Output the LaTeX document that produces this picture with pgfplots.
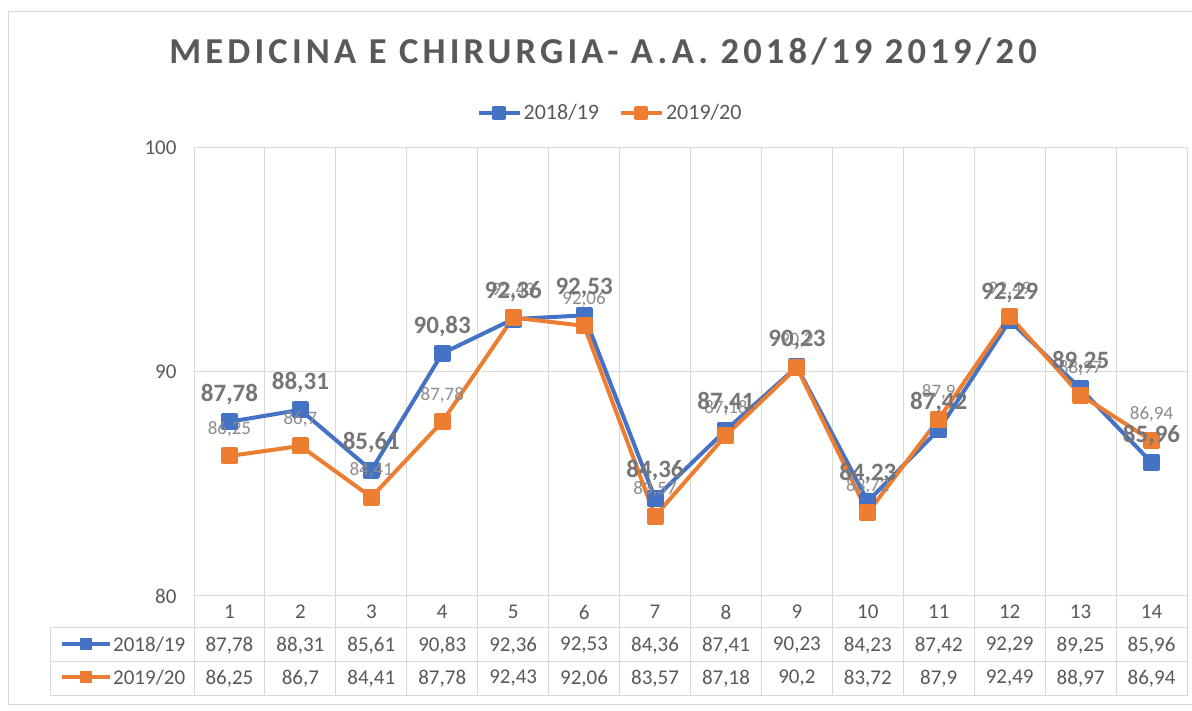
\documentclass[border=0pt]{standalone}
\usepackage{pgfplots}
\pgfplotsset{compat=1.18}
\usepackage{pgfplotstable}
\usepackage{fontspec}
\setmainfont{Carlito}
\definecolor{bl}{HTML}{4472C4}
\definecolor{or}{HTML}{ED7D31}
\definecolor{tx}{HTML}{595959}
\definecolor{gr}{HTML}{D9D9D9}
\definecolor{lab}{HTML}{767676}
\definecolor{labl}{HTML}{8C8C8C}

\pgfplotstableread{
x a b
1 87.78 86.25
2 88.31 86.70
3 85.61 84.41
4 90.83 87.78
5 92.36 92.43
6 92.53 92.06
7 84.36 83.57
8 87.41 87.18
9 90.23 90.20
10 84.23 83.72
11 87.42 87.90
12 92.29 92.49
13 89.25 88.97
14 85.96 86.94
}\data

\begin{document}
\begin{tikzpicture}[x=1pt,y=1pt]
\useasboundingbox (0,0) rectangle (1192,711);
\fill[white] (0,0) rectangle (1192,711);
\draw[gr, line width=1pt] (8,6) rectangle (1210,699);
\node[font=\fontsize{36.5}{40}\selectfont\bfseries\addfontfeatures{LetterSpace=11.5}, text=tx] at (603,659) {MEDICINA E CHIRURGIA- A.A. 2018/19 2019/20};
\begin{axis}[
  at={(194pt,115pt)}, anchor=south west,
  scale only axis, width=993pt, height=448pt,
  xmin=0.5, xmax=14.5, ymin=80, ymax=100,
  clip=false,
  axis line style={draw=none},
  xtick={1,...,14}, ytick={80,90,100},
  minor xtick={0.5,1.5,...,14.5},
  ymajorgrids, xminorgrids,
  grid style={gr, line width=1pt},
  minor grid style={gr, line width=1pt},
  major tick length=0pt, minor tick length=0pt,
  tick style={draw=none},
  /pgf/number format/.cd, fixed, precision=2, use comma, assume math mode=true,
  /pgfplots/.cd,
  ticklabel style={font=\fontsize{21}{21}\selectfont, text=tx},
  yticklabel style={anchor=east, xshift=-14pt},
  xticklabel style={anchor=center, yshift=-16pt, text depth=0pt},
  legend style={at={(0.419,1.078)}, anchor=center, draw=none, fill=none,
    font=\fontsize{22}{22}\selectfont, text=tx,
    /tikz/every even column/.append style={column sep=18pt}},
  legend columns=2,
  legend image code/.code={\draw[mark repeat=2,mark phase=2,#1,mark size=5pt] plot coordinates {(0pt,0pt) (20pt,0pt) (41pt,0pt)};},
]
\addplot[bl, line width=4pt, line join=round, mark=square*, mark size=6.5pt, mark options={solid}] table[x=x,y=a]{\data};
\addlegendentry{2018/19}
\addplot[or, line width=4pt, line join=round, mark=square*, mark size=6.5pt, mark options={solid}] table[x=x,y=b]{\data};
\addlegendentry{2019/20}
% data labels
\addplot[forget plot, draw=none, nodes near coords, point meta=y,
  every node near coord/.append style={anchor=center, yshift=28pt, text depth=0pt, font=\fontsize{19}{19}\selectfont, text=labl}] table[x=x,y=b]{\data};
\addplot[forget plot, draw=none, nodes near coords, point meta=y,
  every node near coord/.append style={anchor=center, yshift=29pt, text depth=0pt, font=\fontsize{25}{25}\selectfont\bfseries, text=lab}] table[x=x,y=a]{\data};
% data table rows
\addplot[forget plot, draw=none, nodes near coords, point meta=\thisrow{a},
  every node near coord/.append style={anchor=center, yshift=-48pt, text depth=0pt, font=\fontsize{21}{21}\selectfont, text=tx}] table[x=x,y expr=80]{\data};
\addplot[forget plot, draw=none, nodes near coords, point meta=\thisrow{b},
  every node near coord/.append style={anchor=center, yshift=-81pt, text depth=0pt, font=\fontsize{21}{21}\selectfont, text=tx}] table[x=x,y expr=80]{\data};
% table grid
\pgfplotsinvokeforeach{0,...,14}{
  \draw[gr, line width=1pt] (axis cs:#1+0.5,80) -- ([yshift=-100pt]axis cs:#1+0.5,80);
}
\end{axis}
\draw[gr, line width=1pt] (50,83) -- (1187,83);
\draw[gr, line width=1pt] (50,49) -- (1187,49);
\draw[gr, line width=1pt] (50,15) -- (1187,15);
\draw[gr, line width=1pt] (50,15) -- (50,83);
% row headers
\draw[bl, line width=4pt] (62,67) -- (110,67);
\fill[bl] (80,61) rectangle (92,73);
\draw[or, line width=4pt] (62,34) -- (110,34);
\fill[or] (80,28) rectangle (92,40);
\node[anchor=west, text depth=0pt, font=\fontsize{21}{21}\selectfont, text=tx, inner sep=0pt] at (113,67) {2018/19};
\node[anchor=west, text depth=0pt, font=\fontsize{21}{21}\selectfont, text=tx, inner sep=0pt] at (113,34) {2019/20};
\end{tikzpicture}
\end{document}
